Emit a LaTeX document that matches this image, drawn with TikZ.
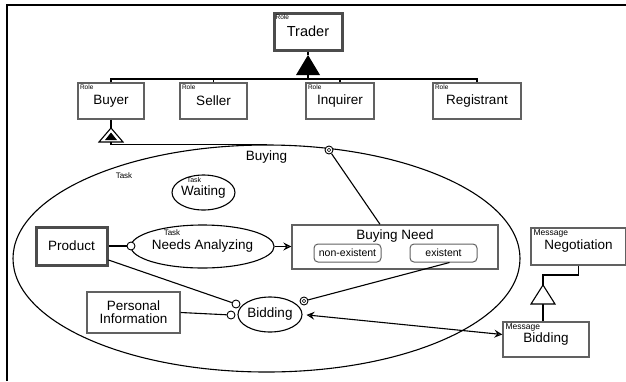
\documentclass[tikz,border=0pt]{standalone}
\usepackage{fontspec}
\setmainfont{Liberation Sans}
\usetikzlibrary{shapes.geometric,arrows.meta}
\definecolor{edgegray}{gray}{0.38}
\definecolor{heavygray}{gray}{0.3}

\begin{document}
\begin{tikzpicture}[x=1pt,y=-1pt,
  conn/.style={line width=1.1pt,black},
  namefont/.style={font=\fontsize{13.5}{15}\selectfont},
  box/.style={draw=edgegray,line width=1.4pt,inner sep=0pt,namefont},
  heavybox/.style={draw=heavygray,line width=3pt,inner sep=0pt,namefont},
  tagtext/.style={inner sep=0pt,font=\fontsize{6.5}{7}\selectfont},
  msgtag/.style={inner sep=0pt,font=\fontsize{8.5}{9}\selectfont},
  task/.style={ellipse,draw,line width=1.1pt,inner sep=0pt,namefont},
  state/.style={draw=edgegray,line width=1pt,rounded corners=4pt,inner sep=0pt,
    minimum width=67pt,minimum height=18pt,font=\fontsize{10.5}{11}\selectfont},
  port/.style={circle,draw,fill=white,line width=0.9pt,minimum size=8pt,inner sep=0pt},
  ring/.style={circle,draw,fill=white,line width=0.9pt,minimum size=8pt,inner sep=0pt,
    path picture={\draw[line width=0.6pt] (path picture bounding box.center) circle (1.8pt);}},
  opentip/.tip={Stealth[open,length=8pt,width=8pt,inset=3pt]},
]
\useasboundingbox (0,0) rectangle (626,381);

% frame
\draw[line width=2pt] (6.5,381) -- (6.5,5) -- (626,5);

% roles
\node[heavybox,minimum width=68pt,minimum height=37pt,font=\fontsize{14.5}{16}\selectfont] (trader) at (308,31.5) {\raisebox{-1.5pt}{Trader}};
\node[tagtext,anchor=north west] (traderrole) at ([shift={(3,3)}]trader.north west) {Role};
\node[box,minimum width=66pt,minimum height=36pt] (buyer) at (111,101) {Buyer};
\node[tagtext,anchor=north west] (buyerrole) at ([shift={(2.5,2.5)}]buyer.north west) {Role};
\node[box,minimum width=67pt,minimum height=36pt] (seller) at (213.5,101) {Seller};
\node[tagtext,anchor=north west] (sellerrole) at ([shift={(2.5,2.5)}]seller.north west) {Role};
\node[box,minimum width=68pt,minimum height=36pt] (inquirer) at (340,101) {Inquirer};
\node[tagtext,anchor=north west] (inquirerrole) at ([shift={(2.5,2.5)}]inquirer.north west) {Role};
\node[box,minimum width=88pt,minimum height=36pt] (registrant) at (477,101) {Registrant};
\node[tagtext,anchor=north west] (registrantrole) at ([shift={(2.5,2.5)}]registrant.north west) {Role};

% role generalization
\coordinate (gtrader) at (308,55);
\coordinate (gtraderbase) at (308,75);
\coordinate (bar) at (308,79);
\draw[conn] (trader.south) -- (gtrader);
\fill (gtrader) -- ++(-12,20) -- ++(24,0) -- cycle;
\draw[conn] (gtraderbase) -- (bar);
\draw[conn] (buyer.north) |- (bar) -| (registrant.north);
\draw[conn] (seller.north) -- (seller.north |- bar);
\draw[conn] (inquirer.north) -- (inquirer.north |- bar);

% buying task
\node[ellipse,draw,line width=1.1pt,inner sep=0pt,minimum width=507pt,minimum height=227pt] (buying) at (266.5,258.5) {};
\node[inner sep=0pt,namefont] (buyinglabel) at (266.5,157) {Buying};
\node[inner sep=0pt,font=\fontsize{8}{9}\selectfont] (buyingtag) at (124,176) {Task};

% buyer plays the buying task
\coordinate (gbuyer) at (111,128);
\coordinate (gbuyerbase) at (111,142);
\draw[conn] (buyer.south) -- (gbuyer);
\draw[conn,fill=white] (gbuyer) -- ++(-12,14) -- ++(24,0) -- cycle;
\fill (111,132.5) -- ++(-6,7.5) -- ++(12,0) -- cycle;
\draw[conn] (gbuyerbase) |- (buying.north);

% subtasks
\node[task,minimum width=59pt,minimum height=35pt] (waiting) at (203.5,192.5) {\raisebox{-2pt}{Waiting}};
\node[inner sep=0pt,font=\fontsize{7}{8}\selectfont] (waitingtag) at (194,179.5) {Task};
\node[task,minimum width=131pt,minimum height=43pt] (analyzing) at (202.5,246.5) {\raisebox{-2pt}{Needs Analyzing}};
\node[inner sep=0pt,font=\fontsize{8}{9}\selectfont] (analyzingtag) at (172,233) {Task};
\node[task,minimum width=64pt,minimum height=35pt] (bidding) at (270,314.5) {Bidding};

% objects
\node[heavybox,minimum width=71pt,minimum height=38pt] (product) at (71.5,246) {Product};
\node[box,align=center,minimum width=93pt,minimum height=41pt,font=\fontsize{13.5}{13}\selectfont] (pinfo) at (133.5,312.5) {Personal\\Information};
\node[box,minimum width=206pt,minimum height=44pt] (bneed) at (395,247) {};
\node[inner sep=0pt,namefont] (bneedtitle) at (395,236) {Buying Need};
\node[state] (nonexist) at (347.5,253) {non-existent};
\node[state] (exist) at (443.5,253) {existent};

% messages
\node[box,minimum width=95pt,minimum height=37pt] (neg) at (578.5,246.5) {\raisebox{-3pt}{Negotiation}};
\node[msgtag,anchor=north west] (negtag) at ([shift={(3,2.5)}]neg.north west) {Message};
\node[box,minimum width=86pt,minimum height=35pt] (mbid) at (546,339.5) {\raisebox{-3pt}{Bidding}};
\node[msgtag,anchor=north west] (mbidtag) at ([shift={(3,2.5)}]mbid.north west) {Message};

% message generalization
\coordinate (gneg) at (543,285);
\coordinate (gnegbase) at (543,304);
\draw[conn] ([shift={(-3,0)}]mbid.north) -- (gnegbase);
\draw[conn,fill=white] (gneg) -- ++(-12,19) -- ++(24,0) -- cycle;
\draw[conn] (gneg) -- ++(0,-10) -| (neg.south);

% ports and links
\node[port] (pa) at (131,246) {};
\node[port] (pb) at (236,304) {};
\node[port] (pc) at (231,315) {};
\node[ring] (ra) at (329,150) {};
\node[ring] (rb) at (304,301) {};

\draw[conn] (product.east) -- (pa);
\draw[conn] ([shift={(0,14)}]product.east) -- (pb);
\draw[conn] (pinfo.east) -- (pc);
\draw[conn] (ra) -- ([shift={(-15,0)}]bneed.north);
\draw[conn] ([shift={(6,0)}]exist.south) -- (rb);
\draw[conn,-opentip] (analyzing.east) -- (analyzing.east -| bneed.west);
\draw[conn,opentip-opentip,shorten <=4pt] (bidding.east) -- ([shift={(0,-5)}]mbid.west);

\end{tikzpicture}
\end{document}
